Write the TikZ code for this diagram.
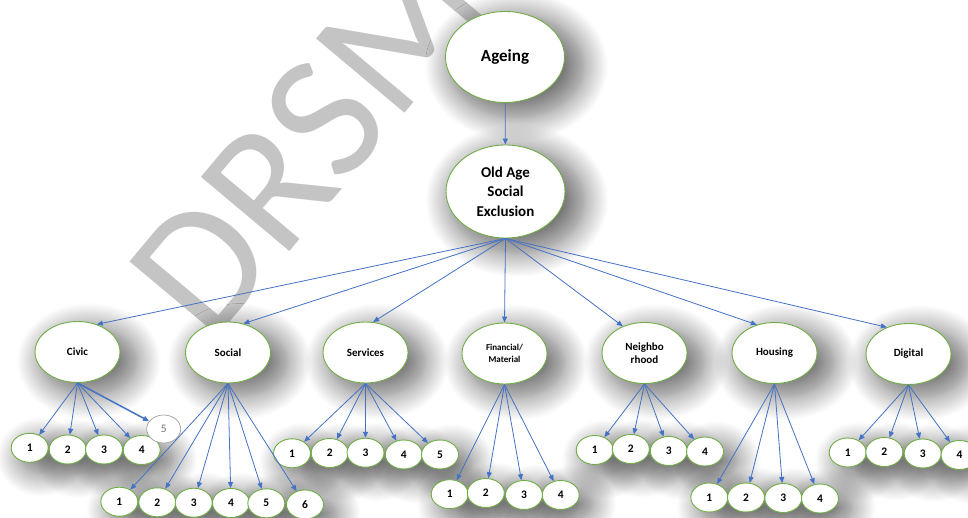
\documentclass[tikz,border=0pt]{standalone}
\usepackage{fontspec}
\setmainfont{Carlito}
\usetikzlibrary{arrows.meta,shapes.geometric,shadows.blur,backgrounds}
\definecolor{lineblue}{HTML}{4472C4}
\definecolor{edgegreen}{HTML}{70AD47}
\definecolor{wmgray}{HTML}{C4C4C4}
\begin{document}
\begin{tikzpicture}[x=1pt,y=-1pt,
 ell/.style={ellipse, draw=edgegreen, line width=0.9pt, fill=white, inner sep=0pt, align=center, font=\bfseries},
 big/.style={ell, minimum width=119pt, minimum height=91pt},
 cat/.style={ell, minimum width=85pt, minimum height=61pt, font=\fontsize{11}{12.7}\selectfont\bfseries},
 num/.style={ell, minimum width=37pt, minimum height=29pt, font=\fontsize{11.5}{13}\selectfont\bfseries},
 arr/.style={draw=lineblue, line width=0.8pt, -{Triangle[length=6pt,width=5pt]}},
 shd/.style={blur shadow={shadow xshift=10pt, shadow yshift=-8pt, shadow scale=1.15, shadow blur radius=20pt, shadow blur steps=14, shadow opacity=55}}
]
\useasboundingbox (0,0) rectangle (968,518);
\clip (0,0) rectangle (968,518);

% main nodes
\node[big, font=\fontsize{17}{20}\selectfont\bfseries] (ageing) at (505,57) {Ageing};
\node[big, minimum height=93pt, font=\fontsize{15}{19.5}\selectfont\bfseries] (oase) at (505.5,191.5) {Old Age\\Social\\Exclusion};

\node[cat] (civic) at (77.5,352) {Civic};
\node[cat] (social) at (228,352.5) {Social};
\node[cat] (services) at (365.5,352.5) {Services};
\node[cat, font=\fontsize{9}{11.7}\selectfont\bfseries] (financial) at (504.5,353.5) {Financial/\\Material};
\node[cat] (neighbo) at (644.5,353) {Neighbo\\rhood};
\node[cat] (housing) at (774.5,353) {Housing};
\node[cat] (digital) at (908.5,354) {Digital};

% civic
\node[num] (c1) at (29.7,447.8) {1};
\node[num] (c2) at (67.7,449.5) {2};
\node[num] (c3) at (104,449.5) {3};
\node[num] (c4) at (141.7,450) {4};
\node[ellipse, draw=gray!75, line width=0.7pt, fill=white, inner sep=0pt, minimum width=34pt, minimum height=28pt, text=gray!90!black, font=\fontsize{11.5}{13}\selectfont] (c5) at (163.7,429) {5};
% social
\node[num] (s1) at (119.3,501.7) {1};
\node[num] (s2) at (157.3,502.3) {2};
\node[num] (s3) at (193.7,502.7) {3};
\node[num] (s4) at (231,503) {4};
\node[num] (s5) at (266.3,503.3) {5};
\node[num] (s6) at (305,504.5) {6};
% services
\node[num] (v1) at (292,453.3) {1};
\node[num] (v2) at (329.7,453) {2};
\node[num] (v3) at (365.5,452.7) {3};
\node[num] (v4) at (403.8,454.5) {4};
\node[num] (v5) at (440,454.5) {5};
% financial
\node[num] (f1) at (449.7,494.2) {1};
\node[num] (f2) at (485.8,493) {2};
\node[num] (f3) at (524,495) {3};
\node[num] (f4) at (560.7,495) {4};
% neighbourhood
\node[num] (n1) at (594.7,450) {1};
\node[num] (n2) at (630.8,449) {2};
\node[num] (n3) at (668.8,451) {3};
\node[num] (n4) at (705,451.5) {4};
% housing
\node[num] (h1) at (709.3,497.5) {1};
\node[num] (h2) at (746,497.5) {2};
\node[num] (h3) at (783.3,498) {3};
\node[num] (h4) at (820,498.5) {4};
% digital
\node[num] (d1) at (847.7,452.5) {1};
\node[num] (d2) at (884.3,452) {2};
\node[num] (d3) at (922.7,453.5) {3};
\node[num] (d4) at (959.5,455) {4};

% background: watermark and shadows
\begin{scope}[on background layer]
\node[anchor=base west, rotate=50, inner sep=0pt, text=wmgray, font=\fontsize{180}{195}\selectfont] (wmk) at (210,346) {DRSM};
\path[shd] (ageing.center) ellipse [x radius=59.5pt, y radius=45.5pt];
\path[shd] (oase.center) ellipse [x radius=59.5pt, y radius=46.5pt];
\foreach \n in {civic,social,services,financial,neighbo,housing,digital}
  {\path[shd] (\n.center) ellipse [x radius=42.5pt, y radius=30.5pt];}
\foreach \n in {c1,c2,c3,c4,s1,s2,s3,s4,s5,s6,v1,v2,v3,v4,v5,f1,f2,f3,f4,n1,n2,n3,n4,h1,h2,h3,h4,d1,d2,d3,d4}
  {\path[shd] (\n.center) ellipse [x radius=18.5pt, y radius=14.5pt];}
\end{scope}

% connectors
\draw[arr] (ageing) -- (oase);
\draw[arr] (oase.south) -- (civic.55);
\draw[arr] (oase.south) -- (social.62);
\draw[arr] (oase.south) -- (services.76);
\draw[arr] (oase.south) -- (financial.north);
\draw[arr] (oase.south) -- (neighbo.129);
\draw[arr] (oase.south) -- (housing.122);
\draw[arr] (oase.south) -- (digital.129);

\foreach \n in {c1,c2,c3,c4} {\draw[arr] (civic.south) -- (\n);}
\draw[arr, line width=1.5pt] (civic.south) -- (c5);
\foreach \n in {s1,s2,s3,s4,s5,s6} {\draw[arr] (social.south) -- (\n);}
\foreach \n in {v1,v2,v3,v4,v5} {\draw[arr] (services.south) -- (\n);}
\foreach \n in {f1,f2,f3,f4} {\draw[arr] (financial.south) -- (\n);}
\foreach \n in {n1,n2,n3,n4} {\draw[arr] (neighbo.south) -- (\n);}
\foreach \n in {h1,h2,h3,h4} {\draw[arr] (housing.south) -- (\n);}
\foreach \n in {d1,d2,d3,d4} {\draw[arr] (digital.south) -- (\n);}
\end{tikzpicture}
\end{document}
